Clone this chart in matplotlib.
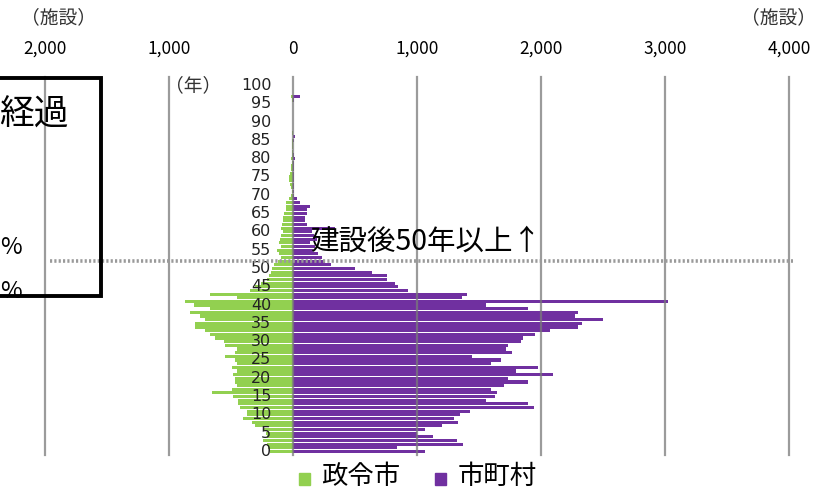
import matplotlib
matplotlib.use("Agg")
import matplotlib.pyplot as plt
from matplotlib.patches import Rectangle
import numpy as np

plt.rcParams['font.family'] = ['Noto Sans CJK JP', 'DejaVu Sans']

# years since construction (0..100)
years = list(range(0, 101))

# 政令市 (designated cities) - facilities per year
seirei = [185, 200, 210, 240, 210, 215, 240, 305, 330, 400,
          370, 370, 425, 440, 440, 480, 650, 490, 450, 465,
          470, 480, 450, 490, 450, 470, 545, 465, 450, 545,
          560, 630, 670, 710, 790, 790, 710, 750, 830, 670,
          800, 870, 450, 670, 345, 305, 260, 210, 190, 180,
          170, 150, 125, 100, 115, 130, 100, 115, 105, 100,
          80, 100, 90, 80, 80, 75, 60, 60, 55, 35,
          15, 10, 20, 25, 30, 35, 25, 20, 15, 10,
          15, 10, 5, 8, 5, 5, 3, 5, 3, 2,
          3, 2, 2, 2, 2, 3, 5, 15, 0, 0, 0]

# 市町村 (other municipalities)
shichoson = [1065, 835, 1370, 1325, 1130, 1000, 1065, 1200, 1330, 1300,
             1345, 1430, 1945, 1895, 1560, 1630, 1645, 1600, 1700, 1895,
             1735, 2095, 1800, 1975, 1600, 1675, 1440, 1770, 1720, 1735,
             1835, 1855, 1950, 2070, 2300, 2330, 2500, 2275, 2300, 1895,
             1555, 3025, 1365, 1400, 930, 850, 820, 755, 755, 635,
             500, 310, 255, 230, 200, 160, 180, 140, 190, 170,
             150, 340, 110, 95, 100, 110, 110, 140, 55, 30,
             10, 5, 8, 10, 5, 8, 10, 5, 8, 10,
             15, 5, 3, 3, 3, 5, 15, 3, 2, 2,
             2, 2, 2, 2, 2, 3, 10, 55, 0, 0, 0]

xticks = [-2000, -1000, 0, 1000, 2000, 3000, 4000]
xticklabels = ["2,000", "1,000", "0", "1,000", "2,000", "3,000", "4,000"]
yticks = list(range(0, 101, 5))
legend_labels = ["政令市", "市町村"]
threshold_year = 52
annotation = "建設後50年以上↑"

GREEN = "#92D050"
PURPLE = "#7030A0"

W, H = 826, 492
fig = plt.figure(figsize=(W / 100, H / 100), dpi=100)

def fx(px):
    return px / W

def fy(py):
    return 1 - py / H

ax = fig.add_axes([fx(45), fy(455), fx(789) - fx(45), fy(77) - fy(455)])
ax.set_xlim(-2000, 4000)
ax.set_ylim(-0.96, 102.3)
for s in ax.spines.values():
    s.set_visible(False)
ax.set_yticks([])

ax.barh(years, [-v for v in seirei], height=0.86, color=GREEN, zorder=2)
ax.barh(years, shichoson, height=0.86, color=PURPLE, zorder=2)

for xv in xticks:
    ax.axvline(xv, color="#7a7a7a", lw=1.6, alpha=0.75, zorder=3, clip_on=False)

# top tick labels
ax.xaxis.tick_top()
ax.set_xticks(xticks)
ax.set_xticklabels(xticklabels, fontsize=12.5)
ax.tick_params(axis='x', length=0, pad=14)

# year labels inside the chart
for yv in yticks:
    ax.text(-175, yv, str(yv), ha='right', va='center', fontsize=11.5,
            family='DejaVu Sans', color="#222222", zorder=4)
ax.text(-575, 100, "（年）", ha='right', va='center', fontsize=13.5, color="#333333")

# threshold line
ax.plot([-1960, 4030], [threshold_year, threshold_year], color="#9a9a9a",
        lw=2.6, ls=(0, (0.6, 0.6)), zorder=4, clip_on=False)
ax.text(137, 57.3, annotation, ha='left', va='center', fontsize=20.5, color="black", zorder=5)

# unit labels
fig.text(fx(59), fy(18), "（施設）", ha='center', va='center', fontsize=13.5, color="#333333")
fig.text(fx(779), fy(18), "（施設）", ha='center', va='center', fontsize=13.5, color="#333333")

# cut-off box on the left
fig.patches.append(Rectangle((fx(-20), fy(296)), fx(121), fy(78) - fy(296),
                             transform=fig.transFigure, fill=False,
                             edgecolor="black", lw=2.8, zorder=6))
fig.text(fx(69), fy(115), "経過", ha='right', va='center', fontsize=25, color="black")
fig.text(fx(0), fy(248), "%", ha='left', va='center', fontsize=17, color="black")
fig.text(fx(0), fy(292), "%", ha='left', va='center', fontsize=17, color="black")

# legend
fig.patches.append(Rectangle((fx(299), fy(485)), fx(11), fy(473) - fy(485),
                             transform=fig.transFigure, color=GREEN))
fig.text(fx(321), fy(476), legend_labels[0], ha='left', va='center', fontsize=19)
fig.patches.append(Rectangle((fx(435), fy(485)), fx(11), fy(473) - fy(485),
                             transform=fig.transFigure, color=PURPLE))
fig.text(fx(458), fy(476), legend_labels[1], ha='left', va='center', fontsize=19)

fig.savefig("out.png", dpi=100)
